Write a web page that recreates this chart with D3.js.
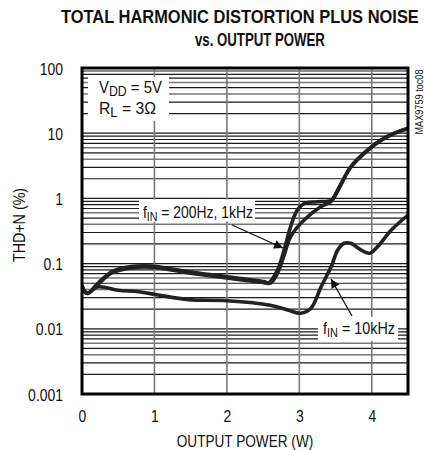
<!DOCTYPE html>
<html>
<head>
<meta charset="utf-8">
<script src="https://cdn.jsdelivr.net/npm/d3@7"></script>
<style>
  html, body { margin: 0; padding: 0; background: #fff; }
  svg { display: block; }
  text { font-family: "Liberation Sans Narrow", "Arial Narrow", "Liberation Sans", sans-serif; fill: #111; }
</style>
</head>
<body>
<svg id="chart" width="425" height="450"></svg>
<script>
// ---- data ----
const xTicks = [0, 1, 2, 3, 4];
const xTickLabels = ["0", "1", "2", "3", "4"];
const yTicks = [0.001, 0.01, 0.1, 1, 10, 100];
const yTickLabels = ["0.001", "0.01", "0.1", "1", "10", "100"];

// fIN = 200Hz
const power200 = [0, 0.07, 0.22, 0.41, 0.68, 0.96, 1.47, 2.0, 2.51, 2.58, 2.70, 2.79, 2.88, 2.97, 3.07, 3.25, 3.44, 3.53, 3.71, 3.94, 4.13, 4.31, 4.5];
const thd200   = [0.045, 0.035, 0.050, 0.075, 0.090, 0.092, 0.075, 0.063, 0.053, 0.051, 0.080, 0.162, 0.37, 0.66, 0.84, 0.89, 0.94, 1.35, 3.06, 5.5, 7.9, 10.0, 11.9];
// fIN = 1kHz
const power1k = [0, 0.07, 0.22, 0.41, 0.68, 0.96, 1.47, 2.0, 2.51, 2.60, 2.70, 2.79, 2.88, 3.07, 3.30, 3.44, 3.53, 3.71, 3.94, 4.13, 4.31, 4.5];
const thd1k   = [0.045, 0.035, 0.048, 0.072, 0.086, 0.088, 0.072, 0.060, 0.051, 0.050, 0.072, 0.135, 0.26, 0.47, 0.75, 0.90, 1.3, 3.0, 5.4, 7.8, 9.9, 11.8];
// fIN = 10kHz
const power10k = [0, 0.07, 0.22, 0.50, 0.78, 1.05, 1.47, 2.0, 2.60, 2.84, 3.02, 3.16, 3.30, 3.44, 3.53, 3.62, 3.71, 3.85, 3.97, 4.08, 4.27, 4.5];
const thd10k   = [0.045, 0.035, 0.044, 0.039, 0.037, 0.033, 0.028, 0.027, 0.023, 0.0194, 0.0173, 0.0206, 0.044, 0.09, 0.162, 0.205, 0.205, 0.162, 0.144, 0.182, 0.327, 0.556];

// ---- layout ----
const pL = 82, pR = 408, pT = 68, pB = 394;
const svg = d3.select("#chart");
const x = d3.scaleLinear().domain([0, 4.5]).range([pL, pR]);
const y = d3.scaleLog().domain([0.001, 100]).range([pB, pT]);

function narrow(sel, f) {
  sel.each(function () {
    const w = this.getComputedTextLength();
    d3.select(this).attr("textLength", w * f).attr("lengthAdjust", "spacingAndGlyphs");
  });
}
// place a (possibly multi-tspan) text, horizontally squeezed to a target width via transform
function fitText(px, py, targetW, build) {
  const g = svg.append("g");
  const t = g.append("text");
  build(t);
  const w = t.node().getComputedTextLength();
  g.attr("transform", `translate(${px},${py}) scale(${targetW / w},1)`);
  return t;
}

// title
fitText(61, 23, 358, t => t.attr("font-size", 18).attr("font-weight", "bold")
  .text("TOTAL HARMONIC DISTORTION PLUS NOISE"));
fitText(195, 46, 130, t => t.attr("font-size", 18).attr("font-weight", "bold")
  .text("vs. OUTPUT POWER"));

// horizontal grid (log minor lines)
const gridVals = [];
[0.001, 0.01, 0.1, 1, 10].forEach(d => { for (let k = 1; k <= 9; k++) gridVals.push(k * d); });
gridVals.push(100);
svg.append("g").selectAll("line").data(gridVals).join("line")
  .attr("x1", pL).attr("x2", pR)
  .attr("y1", d => y(d)).attr("y2", d => y(d))
  .attr("stroke", (d, i) => (i % 9 === 3 || i % 9 === 5) ? "#777" : "#1a1a1a")
  .attr("stroke-width", (d, i) => (i % 9 === 3 || i % 9 === 5) ? 1.5 : 1.2);

// vertical grid
svg.append("g").selectAll("line").data(xTicks.slice(1)).join("line")
  .attr("x1", d => x(d)).attr("x2", d => x(d))
  .attr("y1", pT).attr("y2", pB)
  .attr("stroke", "#7a7a7a").attr("stroke-width", 1.6);

// curves
svg.append("clipPath").attr("id", "plotclip").append("rect")
  .attr("x", pL).attr("y", pT).attr("width", pR - pL).attr("height", pB - pT);
const line = d3.line().x(d => x(d[0])).y(d => y(d[1])).curve(d3.curveCatmullRom.alpha(0.5));
const series = [
  d3.zip(power200, thd200),
  d3.zip(power1k, thd1k),
  d3.zip(power10k, thd10k)
];
svg.append("g").attr("clip-path", "url(#plotclip)").selectAll("path").data(series).join("path")
  .attr("d", line).attr("fill", "none").attr("stroke", "#222")
  .attr("stroke-width", 3.6).attr("stroke-linejoin", "round").attr("stroke-linecap", "round");

// legend box
svg.append("rect").attr("x", 88).attr("y", 77).attr("width", 81).attr("height", 44).attr("fill", "#fff");
fitText(99, 93, 63, t => {
  t.attr("font-size", 17);
  t.append("tspan").text("V");
  t.append("tspan").attr("font-size", 14).attr("dy", 3).text("DD");
  t.append("tspan").attr("dy", -3).text(" = 5V");
});
fitText(99, 114, 57, t => {
  t.attr("font-size", 17);
  t.append("tspan").text("R");
  t.append("tspan").attr("font-size", 14).attr("dy", 3).text("L");
  t.append("tspan").attr("dy", -3).text(" = 3Ω");
});

// annotation boxes
svg.append("rect").attr("x", 139).attr("y", 199.5).attr("width", 116).attr("height", 22).attr("fill", "#fff");
fitText(143, 218, 110, t => {
  t.attr("font-size", 17);
  t.append("tspan").text("f");
  t.append("tspan").attr("font-size", 13).attr("dy", 3).text("IN");
  t.append("tspan").attr("dy", -3).text(" = 200Hz, 1kHz");
});

svg.append("rect").attr("x", 318).attr("y", 317).attr("width", 80).attr("height", 24).attr("fill", "#fff");
fitText(323, 334, 72, t => {
  t.attr("font-size", 17);
  t.append("tspan").text("f");
  t.append("tspan").attr("font-size", 13).attr("dy", 3).text("IN");
  t.append("tspan").attr("dy", -3).text(" = 10kHz");
});

// arrows
const defs = svg.append("defs");
defs.append("marker").attr("id", "ah").attr("viewBox", "0 0 10 10").attr("refX", 10).attr("refY", 5)
  .attr("markerWidth", 15).attr("markerHeight", 9).attr("markerUnits", "userSpaceOnUse")
  .attr("orient", "auto")
  .append("path").attr("d", "M0,0 L10,5 L0,10 Z").attr("fill", "#111");
svg.append("line").attr("x1", 232).attr("y1", 225).attr("x2", 283).attr("y2", 248)
  .attr("stroke", "#111").attr("stroke-width", 1.3).attr("marker-end", "url(#ah)");
svg.append("line").attr("x1", 352).attr("y1", 316).attr("x2", 331).attr("y2", 279)
  .attr("stroke", "#111").attr("stroke-width", 1.3).attr("marker-end", "url(#ah)");

// frame
svg.append("rect").attr("x", pL).attr("y", pT).attr("width", pR - pL).attr("height", pB - pT)
  .attr("fill", "none").attr("stroke", "#000").attr("stroke-width", 3);

// axes
const xAxis = d3.axisBottom(x).tickValues(xTicks).tickFormat((d, i) => xTickLabels[i]).tickSize(0);
const gx = svg.append("g").attr("transform", `translate(0,${pB})`).call(xAxis);
gx.select(".domain").remove();
gx.attr("font-family", null).attr("font-size", 17);
gx.selectAll("text").attr("y", 28).attr("dy", 0).style("fill", "#111");
narrow(gx.selectAll("text"), 0.82);

const yAxis = d3.axisLeft(y).tickValues(yTicks).tickFormat((d, i) => yTickLabels[i]).tickSize(0).tickPadding(19);
const gy = svg.append("g").attr("transform", `translate(${pL},0)`).call(yAxis);
gy.select(".domain").remove();
gy.attr("font-family", null).attr("font-size", 17);
gy.selectAll("text").attr("dy", "0.36em").style("fill", "#111");
narrow(gy.selectAll("text"), 0.82);

// axis titles
const xt = svg.append("text").attr("x", 245).attr("y", 447).attr("text-anchor", "middle").attr("font-size", 17)
  .text("OUTPUT POWER (W)");
narrow(xt, 0.8);
const yt = svg.append("text").attr("transform", "translate(25,225) rotate(-90)").attr("text-anchor", "middle")
  .attr("font-size", 17).text("THD+N (%)");
narrow(yt, 0.84);

// side code
svg.append("text").attr("transform", "translate(423,102) rotate(-90)").attr("text-anchor", "middle")
  .attr("font-size", 10.5).attr("textLength", 65).attr("lengthAdjust", "spacingAndGlyphs")
  .text("MAX9759 toc08");
</script>
</body>
</html>
